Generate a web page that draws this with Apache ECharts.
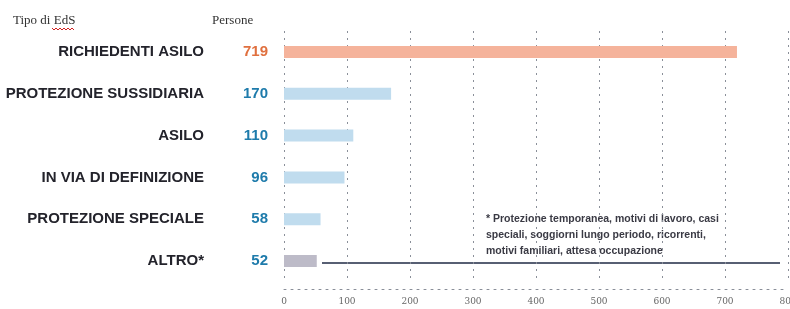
<!DOCTYPE html>
<html>
<head>
<meta charset="utf-8">
<script src="https://cdn.jsdelivr.net/npm/echarts@6/dist/echarts.min.js"></script>
<style>
html,body{margin:0;padding:0;background:#fff;}
#c{width:790px;height:309px;}
</style>
</head>
<body>
<div id="c"></div>
<script>
const categories = ["RICHIEDENTI ASILO","PROTEZIONE SUSSIDIARIA","ASILO","IN VIA DI DEFINIZIONE","PROTEZIONE SPECIALE","ALTRO*"];
const values = [719,170,110,96,58,52];
const barColors = ["#f5b39b","#c0dcee","#c0dcee","#c0dcee","#c0dcee","#bdbbc8"];
const valueColors = ["#e0703f","#1e7bab","#1e7bab","#1e7bab","#1e7bab","#1e7bab"];
const xTicks = [0,100,200,300,400,500,600,700,800];
const footnote = ["* Protezione temporanea, motivi di lavoro, casi","speciali, soggiorni lungo periodo, ricorrenti,","motivi familiari, attesa occupazione"];

const chart = echarts.init(document.getElementById('c'));
const rich = {
  n:{width:196,align:'right',fontFamily:'Liberation Sans, Arial, sans-serif',fontWeight:'bold',fontSize:15,color:'#23232b'},
  v0:{width:64,align:'right',fontFamily:'Liberation Sans, Arial, sans-serif',fontWeight:'bold',fontSize:15,color:valueColors[0]},
  v1:{width:64,align:'right',fontFamily:'Liberation Sans, Arial, sans-serif',fontWeight:'bold',fontSize:15,color:valueColors[1]}
};
chart.setOption({
  animation:false,
  grid:{left:284,right:2,top:31,bottom:27,containLabel:false,outerBoundsMode:'none'},
  xAxis:{
    type:'value',min:xTicks[0],max:xTicks[xTicks.length-1],interval:100,
    offset:7,
    axisLine:{show:true,lineStyle:{color:'#8a8f99',type:[2,5],width:1}},
    axisTick:{show:false},
    axisLabel:{color:'#666',fontSize:9,fontFamily:'DejaVu Serif, serif',margin:8},
    splitLine:{show:true,lineStyle:{color:'#8a8f99',type:[2,5],width:1}}
  },
  yAxis:{
    type:'category',data:categories,inverse:true,
    axisLine:{show:false},axisTick:{show:false},
    axisLabel:{
      margin:16,
      formatter:function(v,i){return '{n|'+v+'}{'+(i===0?'v0':'v1')+'|'+values[i]+'}';},
      rich:rich
    }
  },
  series:[{
    type:'bar',
    data:values.map((v,i)=>({value:v,itemStyle:{color:barColors[i]}})),
    barWidth:12
  }],
  graphic:[
    {type:'text',left:13,top:14,style:{text:'Tipo di EdS',font:'13px "Liberation Serif", serif',fill:'#333'}},
    {type:'polyline',shape:{points:[[52,28],[54,30],[56,28],[58,30],[60,28],[62,30],[64,28],[66,30],[68,28],[70,30],[72,28],[74,30]]},style:{stroke:'#d02020',lineWidth:1,fill:null}},
    {type:'text',left:212,top:14,style:{text:'Persone',font:'13px "Liberation Serif", serif',fill:'#333'}},
    {type:'text',left:486,top:211,style:{text:footnote.join('\n'),font:'bold 10.5px "Liberation Sans", Arial, sans-serif',fill:'#3a3a44',lineHeight:16}},
    {type:'line',shape:{x1:322,y1:263,x2:780,y2:263},style:{stroke:'#1f2a44',lineWidth:1.6}}
  ]
});
</script>
</body>
</html>
